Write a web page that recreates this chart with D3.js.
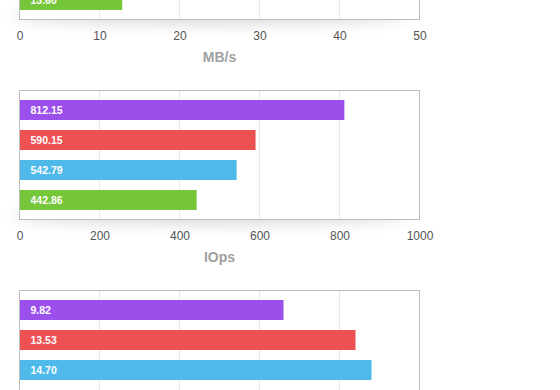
<!DOCTYPE html>
<html>
<head>
<meta charset="utf-8">
<script src="https://cdn.jsdelivr.net/npm/d3@7/dist/d3.min.js"></script>
<style>
  html, body { margin: 0; padding: 0; background: #fff; overflow: hidden; }
  svg { display: block; }
</style>
</head>
<body>
<script>
// ---- data ----
const series = ["Run 1", "Run 2", "Run 3", "Run 4"];
const seriesColors = ["#9b50eb", "#ee5151", "#4fb9ea", "#75c639"];

// Panel 1 (MB/s) – only the last bar is visible in the crop
const mbsTicks = [0, 10, 20, 30, 40, 50];
const mbsValues = [null, null, null, 12.84];
const mbsLabels = [null, null, null, "13.60"];

// Panel 2 (IOps)
const iopsTicks = [0, 200, 400, 600, 800, 1000];
const iopsValues = [812.15, 590.15, 542.79, 442.86];
const iopsLabels = ["812.15", "590.15", "542.79", "442.86"];

// Panel 3 (its axis lies outside the crop, so tick labels are not drawn)
const p3Ticks = [0, 4, 8, 12, 16, 20];
const p3Values = [13.2, 16.8, 17.6, null];
const p3Labels = ["9.82", "13.53", "14.70", null];

const panels = [
  { top: -109.5, title: "MB/s", ticks: mbsTicks, values: mbsValues, labels: mbsLabels, showAxis: true },
  { top: 90.5, title: "IOps", ticks: iopsTicks, values: iopsValues, labels: iopsLabels, showAxis: true },
  { top: 290.5, title: "", ticks: p3Ticks, values: p3Values, labels: p3Labels, showAxis: false }
];

// ---- drawing ----
const W = 560, H = 390;
const svg = d3.select("body").append("svg").attr("width", W).attr("height", H);

const defs = svg.append("defs");
defs.append("filter").attr("id", "shadowBlur")
  .attr("x", "-20%").attr("y", "-200%").attr("width", "140%").attr("height", "500%")
  .append("feGaussianBlur").attr("stdDeviation", 7);

const boxLeft = 19.5, boxRight = 419.5, boxH = 129;
const font = "'Liberation Sans', Arial, Helvetica, sans-serif";

panels.forEach(p => {
  const g = svg.append("g");
  const bottom = p.top + boxH;
  const x = d3.scaleLinear()
    .domain([p.ticks[0], p.ticks[p.ticks.length - 1]])
    .range([boxLeft, boxRight]);
  const y = d3.scaleBand().domain(series)
    .range([p.top + 0.5, bottom - 0.5])
    .paddingInner(1 / 3).paddingOuter(0.3);

  // soft shadow below box
  g.append("ellipse")
    .attr("cx", (boxLeft + boxRight) / 2 - 10)
    .attr("cy", bottom - 3)
    .attr("rx", 200).attr("ry", 9)
    .attr("fill", "#000").attr("opacity", 0.13)
    .attr("filter", "url(#shadowBlur)");

  // box
  g.append("rect")
    .attr("x", boxLeft).attr("y", p.top)
    .attr("width", boxRight - boxLeft).attr("height", boxH)
    .attr("fill", "#fff");

  // gridlines
  g.selectAll("line.grid").data(p.ticks.slice(1, -1)).join("line")
    .attr("class", "grid")
    .attr("x1", d => Math.round(x(d) - 0.5) + 0.5)
    .attr("x2", d => Math.round(x(d) - 0.5) + 0.5)
    .attr("y1", p.top).attr("y2", bottom)
    .attr("stroke", "#e8e8e8").attr("stroke-width", 1);

  const rows = series.map((s, i) => ({ s, v: p.values[i], label: p.labels[i], color: seriesColors[i] }))
    .filter(d => d.v != null);

  g.selectAll("rect.bar").data(rows).join("rect")
    .attr("class", "bar")
    .attr("x", x(0) + 0.5)
    .attr("y", d => y(d.s))
    .attr("width", d => x(d.v) - x(0) - 0.5)
    .attr("height", y.bandwidth())
    .attr("fill", d => d.color);

  g.selectAll("text.lbl").data(rows).join("text")
    .attr("class", "lbl")
    .attr("x", 30.5)
    .attr("y", d => y(d.s) + y.bandwidth() / 2 + 3.6)
    .attr("fill", "#fff")
    .attr("font-family", font)
    .attr("font-weight", "bold")
    .attr("font-size", "10.5px")
    .text(d => d.label);

  // border
  g.append("rect")
    .attr("x", boxLeft).attr("y", p.top)
    .attr("width", boxRight - boxLeft).attr("height", boxH)
    .attr("fill", "none").attr("stroke", "#bcbcbc").attr("stroke-width", 1);

  if (p.showAxis) {
    const axis = d3.axisBottom(x).tickValues(p.ticks).tickSize(0).tickPadding(0)
      .tickFormat(d3.format("d"));
    const ag = g.append("g").attr("transform", `translate(0,${bottom})`).call(axis);
    ag.select(".domain").remove();
    ag.selectAll("text")
      .attr("dy", null)
      .attr("y", 20.5)
      .attr("fill", "#555")
      .attr("font-family", font)
      .attr("font-size", "12px");
  }

  if (p.title) {
    g.append("text")
      .attr("x", (boxLeft + boxRight) / 2)
      .attr("y", bottom + 42)
      .attr("text-anchor", "middle")
      .attr("fill", "#a0a0a0")
      .attr("font-family", font)
      .attr("font-weight", "bold")
      .attr("font-size", "14px")
      .text(p.title);
  }
});
</script>
</body>
</html>
